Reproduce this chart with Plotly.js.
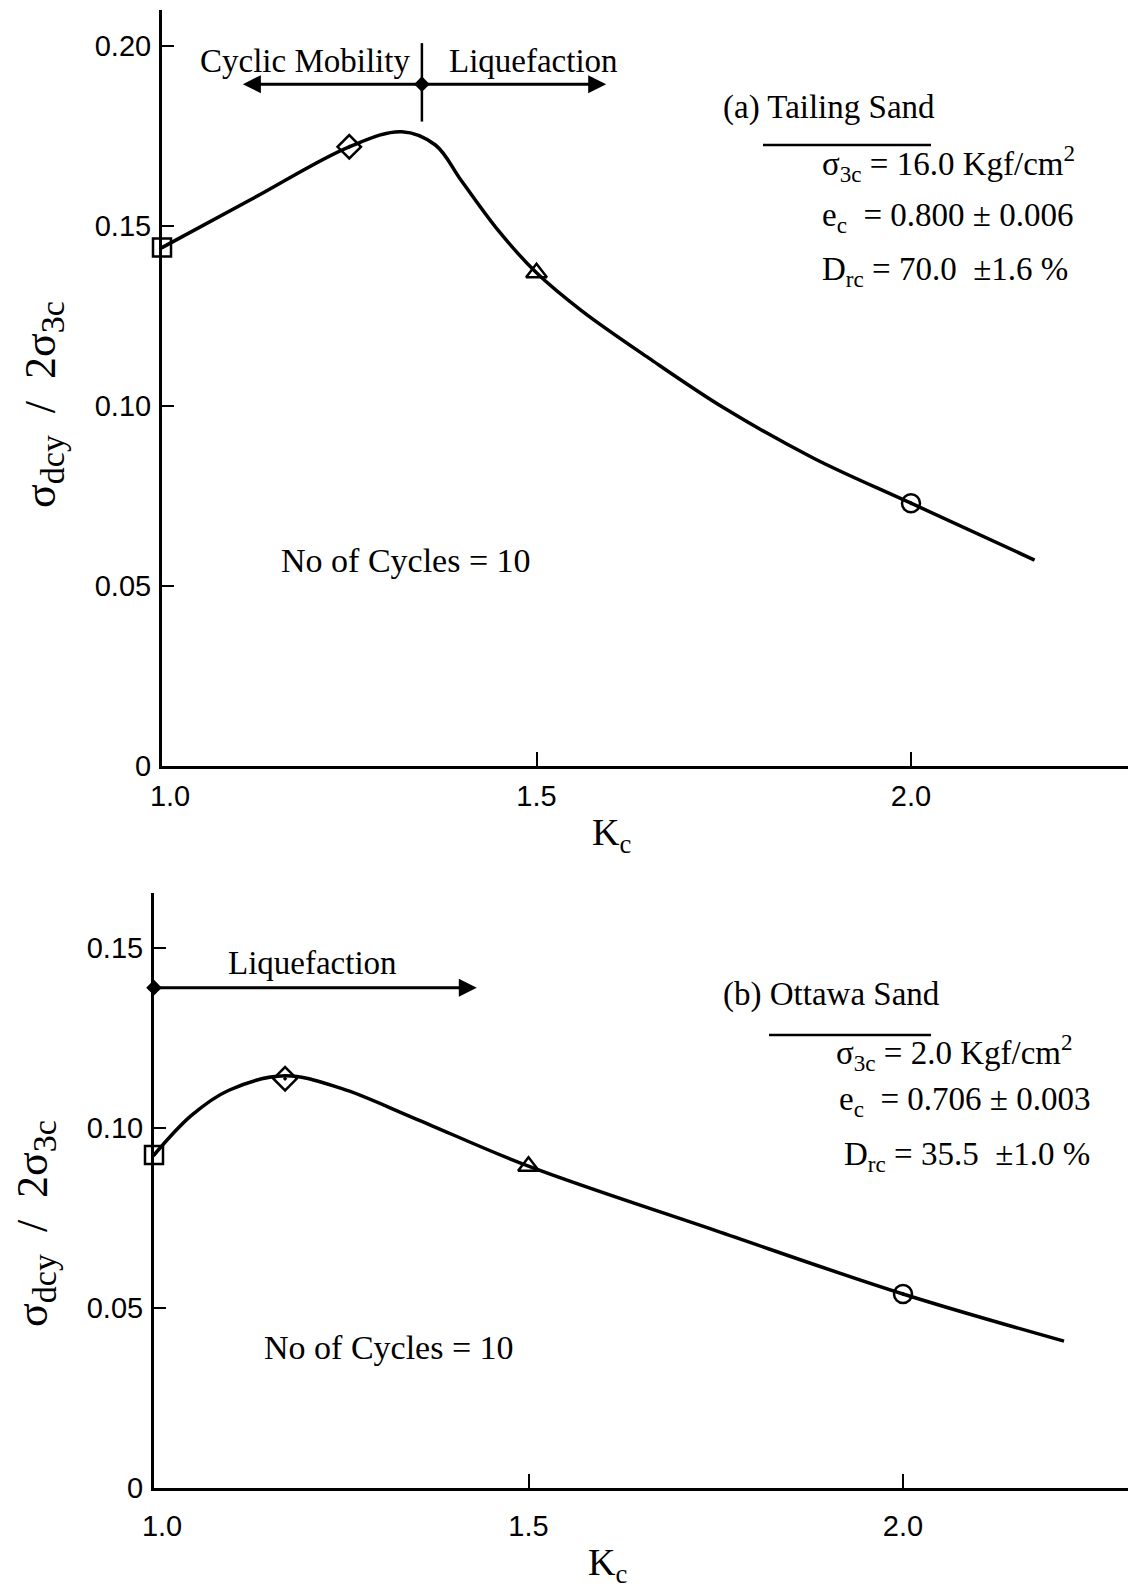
<!DOCTYPE html>
<html>
<head>
<meta charset="utf-8">
<script src="https://cdn.plot.ly/plotly-3.0.1.min.js"></script>
<style>html,body{margin:0;padding:0;background:#fff;}#chart{width:1128px;height:1591px;}</style>
</head>
<body>
<div id="chart"></div>
<script>
// ---------- data: (a) Tailing Sand ----------
const topCurveK = [1.0, 1.12, 1.25, 1.32, 1.365, 1.40, 1.45, 1.5, 1.56, 1.65, 1.75, 1.87, 2.0, 2.165];
const topCurveY = [0.144, 0.1575, 0.172, 0.1762, 0.1725, 0.1625, 0.1485, 0.137, 0.1265, 0.1133, 0.0995, 0.0855, 0.073, 0.0572];
const topPointK = [1.0, 1.25, 1.5, 2.0];
const topPointY = [0.144, 0.172, 0.137, 0.073];
const topBoundaryK = 1.347;
const topArrowY = 0.1894;
const topArrowLeftK = 1.108;
const topArrowRightK = 1.593;
const topBoundaryYRange = [0.179, 0.2008];

// ---------- data: (b) Ottawa Sand ----------
const botCurveK = [1.0, 1.05, 1.1, 1.175, 1.25, 1.35, 1.5, 1.75, 2.0, 2.215];
const botCurveY = [0.0925, 0.1035, 0.1105, 0.1145, 0.111, 0.1025, 0.0894, 0.0715, 0.0539, 0.0408];
const botPointK = [1.0, 1.175, 1.5, 2.0];
const botPointY = [0.0925, 0.1137, 0.0894, 0.0539];
const botArrowStartK = 1.0;
const botArrowY = 0.139;
const botArrowEndK = 1.431;

// ---------- tick labels ----------
const xTickVals = [1.0, 1.5, 2.0];
const xTickText = ["&nbsp;&nbsp;1.0", "1.5", "2.0"];
const yTopTickVals = [0, 0.05, 0.10, 0.15, 0.20];
const yTopTickText = ["0", "0.05", "0.10", "0.15", "0.20"];
const yBotTickVals = [0, 0.05, 0.10, 0.15];
const yBotTickText = ["0", "0.05", "0.10", "0.15"];
const pointSymbols = ["square-open-dot", "diamond-open-dot", "triangle-up-open", "circle-open-dot"];

const W = 1128, H = 1591;
const px = x => x / W;
const py = y => 1 - y / H;

const serif = "Liberation Serif, Times New Roman, serif";
const tickFont = {family: "Liberation Sans, Arial, sans-serif", size: 29, color: "#000"};
const black = "#000";
const sp = n => "&nbsp;".repeat(n);
const subBig = s => "<sub><span style='font-size:34px'>" + s + "</span></sub>";
const xTitleText = "K<sub>c</sub>" + sp(7);
const yTitleCore = "σ" + subBig("dcy") + sp(2) + "/" + sp(2) + "2σ" + subBig("3c");

const traces = [
  {x: topCurveK, y: topCurveY, xaxis: "x", yaxis: "y", mode: "lines",
   line: {color: black, width: 3.5, shape: "spline", smoothing: 1}, hoverinfo: "skip"},
  {x: topPointK, y: topPointY, xaxis: "x", yaxis: "y", mode: "markers", cliponaxis: false,
   marker: {symbol: pointSymbols, size: 18, color: black, line: {color: black, width: 2.5}}},
  {x: [topBoundaryK], y: [topArrowY], xaxis: "x", yaxis: "y", mode: "markers",
   marker: {symbol: "diamond", size: 12, color: black}},
  {x: botCurveK, y: botCurveY, xaxis: "x2", yaxis: "y2", mode: "lines",
   line: {color: black, width: 3.5, shape: "spline", smoothing: 1}, hoverinfo: "skip"},
  {x: botPointK, y: botPointY, xaxis: "x2", yaxis: "y2", mode: "markers", cliponaxis: false,
   marker: {symbol: pointSymbols, size: 18, color: black, line: {color: black, width: 2.5}}},
  {x: [botArrowStartK], y: [botArrowY], xaxis: "x2", yaxis: "y2", mode: "markers",
   marker: {symbol: "diamond", size: 12, color: black}, cliponaxis: false}
];

function xAxis(domain, anchor, labelStandoff) {
  return {
    domain: domain, anchor: anchor, range: [1.0, 1.0 + (W - domain[0] * W) / 749],
    showline: true, linewidth: 3, linecolor: black, showgrid: false, zeroline: false,
    ticks: "inside", ticklen: 14, tickwidth: 2, tickcolor: black,
    tickmode: "array", tickvals: xTickVals, ticktext: xTickText, tickfont: tickFont,
    ticklabelstandoff: labelStandoff,
    title: {text: xTitleText, font: {family: serif, size: 38, color: black}, standoff: 8}
  };
}
function yAxis(domain, anchor, range, vals, text, trailing) {
  return {
    domain: domain, anchor: anchor, range: range,
    showline: true, linewidth: 3, linecolor: black, showgrid: false, zeroline: false,
    ticks: "inside", ticklen: 12, tickwidth: 2, tickcolor: black,
    tickmode: "array", tickvals: vals, ticktext: text, tickfont: tickFont,
    ticklabelstandoff: 2,
    title: {text: yTitleCore + sp(trailing), font: {family: serif, size: 44, color: black}, standoff: 26}
  };
}

const txt = (text, x, y, xanchor, size) => ({
  text: text, x: px(x), y: py(y), xref: "paper", yref: "paper",
  xanchor: xanchor, yanchor: "middle", showarrow: false,
  font: {family: serif, size: size || 33, color: black}
});

const annotations = [
  txt("Cyclic Mobility", 305, 61, "center"),
  txt("Liquefaction", 533, 61, "center"),
  txt("(a) Tailing Sand", 721, 107, "left"),
  txt("σ<sub>3c</sub> = 16.0 Kgf/cm<sup>2</sup>", 820, 164, "left"),
  txt("e<sub>c</sub>&nbsp;&nbsp;= 0.800 ± 0.006", 820, 217, "left"),
  txt("D<sub>rc</sub> = 70.0&nbsp;&nbsp;±1.6 %", 820, 271, "left"),
  txt("No of Cycles = 10", 279, 560, "left", 34),
  txt("Liquefaction", 312, 963, "center"),
  txt("(b) Ottawa Sand", 721, 994, "left"),
  txt("σ<sub>3c</sub> = 2.0 Kgf/cm<sup>2</sup>", 834, 1052, "left"),
  txt("e<sub>c</sub>&nbsp;&nbsp;= 0.706 ± 0.003", 837, 1101, "left"),
  txt("D<sub>rc</sub> = 35.5&nbsp;&nbsp;±1.0 %", 842, 1156, "left"),
  txt("No of Cycles = 10", 262, 1347, "left", 34),
  // arrows
  {x: topArrowLeftK, y: topArrowY, ax: topBoundaryK, ay: topArrowY, xref: "x", yref: "y", axref: "x", ayref: "y",
   text: "", showarrow: true, arrowhead: 2, arrowsize: 1.2, arrowwidth: 3, arrowcolor: black},
  {x: topArrowRightK, y: topArrowY, ax: topBoundaryK, ay: topArrowY, xref: "x", yref: "y", axref: "x", ayref: "y",
   text: "", showarrow: true, arrowhead: 2, arrowsize: 1.2, arrowwidth: 3, arrowcolor: black},
  {x: botArrowEndK, y: botArrowY, ax: botArrowStartK, ay: botArrowY, xref: "x2", yref: "y2", axref: "x2", ayref: "y2",
   text: "", showarrow: true, arrowhead: 2, arrowsize: 1.2, arrowwidth: 3, arrowcolor: black}
];

const shapes = [
  {type: "line", xref: "x", yref: "y", x0: topBoundaryK, x1: topBoundaryK,
   y0: topBoundaryYRange[0], y1: topBoundaryYRange[1], line: {color: black, width: 2.5}},
  {type: "line", xref: "paper", yref: "paper", x0: px(763), x1: px(931), y0: py(145), y1: py(145), line: {color: black, width: 2.5}},
  {type: "line", xref: "paper", yref: "paper", x0: px(769), x1: px(931), y0: py(1035), y1: py(1035), line: {color: black, width: 2.5}}
];

const layout = {
  width: W, height: H, margin: {l: 0, r: 0, t: 0, b: 0},
  paper_bgcolor: "#fff", plot_bgcolor: "#fff", showlegend: false,
  xaxis: xAxis([162 / W, 1], "y", 2),
  yaxis: yAxis([py(766), py(10)], "x", [0, 0.21], yTopTickVals, yTopTickText, 3),
  xaxis2: xAxis([154 / W, 1], "y2", 10),
  yaxis2: yAxis([py(1488), py(893)], "x2", [0, 0.1653], yBotTickVals, yBotTickText, 6),
  annotations: annotations, shapes: shapes
};

Plotly.newPlot("chart", traces, layout, {displayModeBar: false, staticPlot: true});
</script>
</body>
</html>
